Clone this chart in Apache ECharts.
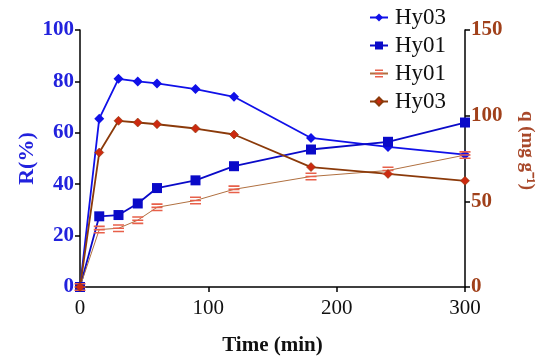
<!DOCTYPE html>
<html><head><meta charset="utf-8">
<script src="https://cdn.jsdelivr.net/npm/echarts@6/dist/echarts.min.js"></script>
<style>html,body{margin:0;padding:0;background:#fff}#c{width:550px;height:363px}</style>
</head><body><div id="c"></div>
<script>
const time = [0, 15, 30, 45, 60, 90, 120, 180, 240, 300];
const rHy03 = [0, 65.5, 81, 80, 79.2, 77, 74, 58, 54.5, 51.5];
const rHy01 = [0, 27.5, 28, 32.5, 38.5, 41.5, 47, 53.5, 56.5, 64];
const qHy01 = [0, 33.5, 34.3, 39, 46.5, 50.5, 57, 64.5, 68, 77];
const qHy03 = [0, 78.5, 97, 96, 95, 92.5, 89, 70, 66, 62];
const xTicks = [0, 100, 200, 300];
const pair = (ys) => time.map((t, i) => [t, ys[i]]);
const font = 'Liberation Serif';
const stripes = 'path://M0,0H10V1.6H0Z M0,3.2H10V4.8H0Z M0,6.4H10V8H0Z';
const chart = echarts.init(document.getElementById('c'));
chart.setOption({
  animation: false,
  grid: {left: 80, right: 85, top: 30, bottom: 76, outerBoundsMode: 'none'},
  legend: {
    orient: 'vertical', left: 364, top: 1, itemGap: 5, itemWidth: 18, itemHeight: 10,
    textStyle: {fontFamily: font, fontSize: 23, color: '#111', padding: [0, 0, 0, 2]},
    data: ['Hy03', 'Hy01', 'Hy01 ', 'Hy03 ']
  },
  xAxis: {
    type: 'value', min: 0, max: 300, interval: 100,
    name: 'Time (min)', nameLocation: 'middle', nameGap: 48,
    nameTextStyle: {fontFamily: font, fontSize: 21, fontWeight: 'bold', color: '#111'},
    axisLine: {lineStyle: {color: '#000', width: 1.5}},
    axisTick: {lineStyle: {color: '#000', width: 1.5}, length: 5},
    axisLabel: {fontFamily: font, fontSize: 21, color: '#111', margin: 11},
    splitLine: {show: false}
  },
  yAxis: [{
    type: 'value', min: 0, max: 100, interval: 20,
    name: 'R(%)', nameLocation: 'middle', nameGap: 42, nameRotate: 90, nameMoveOverlap: false,
    nameTextStyle: {fontFamily: font, fontSize: 22, fontWeight: 'bold', color: '#2222dd'},
    axisLine: {show: true, lineStyle: {color: '#000', width: 1.5}},
    axisTick: {show: true, lineStyle: {color: '#000', width: 1.5}, length: 5},
    axisLabel: {fontFamily: font, fontSize: 21, fontWeight: 'bold', color: '#2222dd', margin: 6},
    splitLine: {show: false}
  }, {
    type: 'value', min: 0, max: 150, interval: 50, position: 'right',
    name: 'q (mg g⁻¹)', nameLocation: 'middle', nameGap: 52, nameRotate: -90,
    nameTextStyle: {fontFamily: font, fontSize: 19, fontWeight: 'bold', color: '#a8482a', padding: [0, 16, 0, 0]},
    axisLine: {show: true, lineStyle: {color: '#000', width: 1.5}},
    axisTick: {show: true, lineStyle: {color: '#000', width: 1.5}, length: 5},
    axisLabel: {fontFamily: font, fontSize: 21, fontWeight: 'bold', color: '#a0401a', margin: 6},
    splitLine: {show: false}
  }],
  series: [{
    name: 'Hy03', type: 'line', yAxisIndex: 0, data: pair(rHy03),
    symbol: 'diamond', symbolSize: 10,
    lineStyle: {color: '#1010e8', width: 1.8}, itemStyle: {color: '#1010e8'}
  }, {
    name: 'Hy01', type: 'line', yAxisIndex: 0, data: pair(rHy01),
    symbol: 'rect', symbolSize: 10,
    lineStyle: {color: '#0a0ac8', width: 1.8}, itemStyle: {color: '#0a0ac8'}
  }, {
    name: 'Hy01 ', type: 'line', yAxisIndex: 1, data: pair(qHy01),
    symbol: stripes, symbolSize: [11, 8],
    lineStyle: {color: '#b07040', width: 1}, itemStyle: {color: '#e8604a'}
  }, {
    name: 'Hy03 ', type: 'line', yAxisIndex: 1, data: pair(qHy03),
    symbol: 'diamond', symbolSize: 9,
    lineStyle: {color: '#8b3a0a', width: 1.8}, itemStyle: {color: '#cc2a10', borderColor: '#8b3a0a', borderWidth: 0.6}
  }]
});
</script></body></html>
